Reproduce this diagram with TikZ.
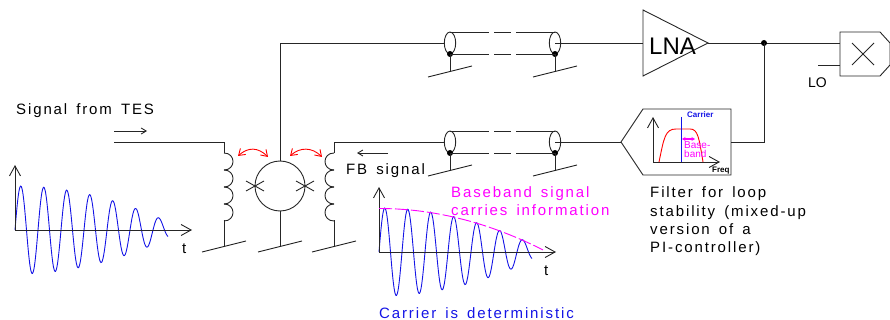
\documentclass[tikz,border=0pt]{standalone}
\usepackage{fontspec}
\setmainfont[LetterSpace=12.5,WordSpace=1.5]{Liberation Sans}
\newfontfamily\plainfont{Liberation Sans}
\usetikzlibrary{arrows.meta,calc}
\definecolor{sigblue}{RGB}{20,20,230}
\definecolor{basepink}{RGB}{255,0,255}
\tikzset{
  wire/.style={line width=0.9pt, black!85},
  label/.style={anchor=base west, inner sep=0pt, font=\fontsize{15}{17}\selectfont},
  tinylabel/.style={anchor=base west, inner sep=0pt, font=\plainfont\fontsize{8}{9}\selectfont\bfseries},
  pinklabel/.style={anchor=base west, inner sep=0pt, text=basepink, font=\plainfont\fontsize{10}{11}\selectfont},
  openhead/.style={-{Straight Barb[length=10pt,width=11pt,line width=0.9pt]}},
  couples/.style={red, line width=0.9pt, {Straight Barb[length=6pt,width=8pt]}-{Straight Barb[length=6pt,width=8pt]}}
}
\begin{document}
\begin{tikzpicture}[x=1pt, y=-1pt]
  \useasboundingbox (0,0) rectangle (890,320);

  % named points of the circuit
  \coordinate (squid-top) at (280,161);
  \coordinate (squid-bot) at (280,211);
  \coordinate (lna-in) at (643,43);
  \coordinate (lna-out) at (708,43);
  \coordinate (split) at (764,43);
  \coordinate (mix-in) at (840,43);
  \coordinate (lo-in) at (840,65);
  \coordinate (lo-end) at (818,65);
  \coordinate (fil-tip) at (621,142);
  \coordinate (fil-out) at (731,142);
  \coordinate (in-start) at (114,142);

  % SQUID with its junctions
  \draw[wire] (280,186) circle (25pt);
  \foreach \x in {255,305} {
    \draw[wire] (\x-9,181) -- (\x+9,191);
    \draw[wire] (\x-9,191) -- (\x+9,181);
  }
  \draw[wire] (squid-top) -- (280,43) -- (445,43);
  \draw[wire] (squid-bot) -- (280,246);

  % input and feedback coils
  \draw[wire] (in-start) -- (224,142) -- (224,153);
  \draw[wire] (224,220) -- (224,246);
  \draw[wire] (445,142) -- (334,142) -- (334,153);
  \draw[wire] (334,220) -- (334,246);
  \foreach \y in {153,170,187,204} {
    \draw[wire] (224,\y) .. controls (236,\y) and (236,\y+17) .. (224,\y+17);
    \draw[wire] (334,\y) .. controls (322,\y) and (322,\y+17) .. (334,\y+17);
  }
  \draw[couples] (238,156) .. controls (248,147) and (258,147) .. (268,157);
  \draw[couples] (290,156) .. controls (300,147) and (312,147) .. (322,157);

  % coax lines
  \foreach \y in {43,142} {
    \foreach \x in {450,555} {
      \draw[wire] (\x,\y) ellipse (5.7pt and 11pt);
      \fill (\x,\y+11) circle (3pt);
      \draw[wire] (\x,\y+11) -- (\x,\y+28);
    }
    \foreach \s in {-11,11} {
      \draw[wire] (450,\y+\s) -- (489,\y+\s);
      \draw[wire] (494,\y+\s) -- (511,\y+\s);
      \draw[wire] (516,\y+\s) -- (555,\y+\s);
    }
  }
  \draw[wire] (555,43) -- (lna-in);
  \draw[wire] (555,142) -- (fil-tip);

  % grounds
  \foreach \x/\y in {224/246,280/246,334/246,450/71,555/71,450/170,555/170} {
    \draw[wire] (\x-22,\y+6) -- (\x+22,\y-5);
  }

  % LNA, filter, mixer
  \draw[wire] (lna-in) -- (643,10) -- (lna-out) -- (643,76) -- cycle;
  \node[anchor=base west, inner sep=0pt, font=\plainfont\fontsize{24}{26}\selectfont] (lna) at (649,55) {LNA};
  \draw[wire] (lna-out) -- (mix-in);
  \fill (split) circle (3pt);
  \draw[wire] (split) -- (764,142) -- (fil-out);
  \draw[wire] (fil-tip) -- (643,109) -- (731,109) -- (731,175) -- (643,175) -- cycle;
  \draw[wire] (mix-in) -- (840,32) -- (880,32) -- (890,43) -- (890,65) -- (880,76) -- (840,76) -- cycle;
  \draw[wire] (852,43) -- (874,65);
  \draw[wire] (874,43) -- (852,65);
  \draw[wire] (lo-end) -- (lo-in);
  \node[label, font=\plainfont\fontsize{14}{16}\selectfont] (lo) at (808,88) {LO};

  % filter curve
  \draw[wire, openhead] (653,162) -- (653,117);
  \draw[wire, openhead] (653,162) -- (720,162);
  \draw[red, line width=0.9pt] (659,162) .. controls (664,138) and (665,129) .. (676,129)
    -- (690,129) .. controls (698,129) and (699,138) .. (703,162);
  \draw[sigblue, line width=0.9pt] (681,117) -- (681,162);
  \draw[basepink, line width=1.1pt, {Stealth[length=3.5pt,width=4pt]}-{Stealth[length=3.5pt,width=4pt]}] (682,139) -- (695,139);
  \node[tinylabel, sigblue] (carrier) at (687,118) {Carrier};
  \node[pinklabel] (base) at (684,149) {Base-};
  \node[pinklabel] (band) at (684,158) {band};
  \node[tinylabel, black] (freq) at (712,173) {Freq};

  % waveforms
  \foreach \ox/\oy in {15/230,379/252} {
    \begin{scope}[shift={(\ox,\oy)}]
      \draw[sigblue, line width=0.9pt] plot[domain=0:153, samples=220, smooth]
        (\x, {-(44-15.4*(\x/100)*(\x/100))*sin(15.652*\x)});
      \draw[wire, openhead] (0,0) -- (0,-65);
      \draw[wire, openhead] (0,0) -- (177,0);
    \end{scope}
  }
  \draw[basepink, line width=0.9pt, dash pattern=on 13pt off 3pt] plot[domain=0:164, samples=40, smooth]
    (379+\x, {252-(43.5-15.4*(\x/100)*(\x/100))});

  % arrows beside the wires
  \draw[wire, -{Straight Barb[length=5pt,width=6pt]}] (114,131) -- (147,131);
  \draw[wire, -{Straight Barb[length=5pt,width=6pt]}] (388,153) -- (357,153);

  % texts
  \node[label] (tes) at (16,115) {Signal from TES};
  \node[label] (fb) at (346,175) {FB signal};
  \node[label] (t1) at (182,253) {t};
  \node[label] (t2) at (544,275) {t};
  \node[label, basepink] (info1) at (451,197) {Baseband signal};
  \node[label, basepink] (info2) at (451,215) {carries information};
  \node[label, sigblue] (carr) at (379,318) {Carrier is deterministic};
  \node[label] (fil1) at (650,197) {Filter for loop};
  \node[label] (fil2) at (650,216) {stability (mixed-up};
  \node[label] (fil3) at (650,234) {version of a};
  \node[label] (fil4) at (650,252) {PI-controller)};
\end{tikzpicture}
\end{document}
